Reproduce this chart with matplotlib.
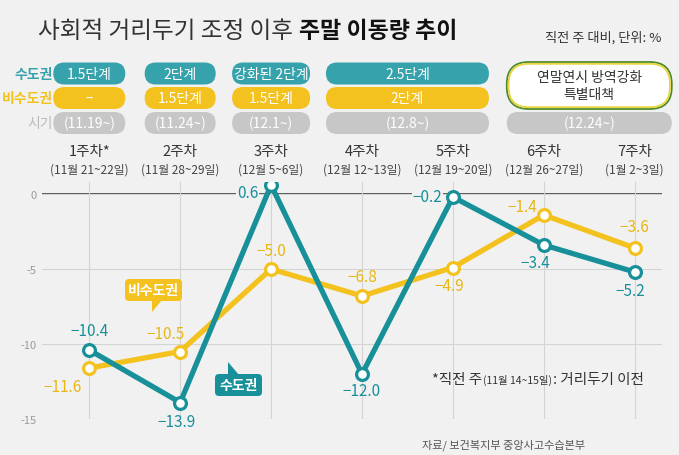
import matplotlib.pyplot as plt
from matplotlib.patches import FancyBboxPatch, Polygon

plt.rcParams['font.family'] = ['Noto Sans CJK KR', 'DejaVu Sans']

# data
weeks = [1, 2, 3, 4, 5, 6, 7]
week_labels = ['1주차*', '2주차', '3주차', '4주차', '5주차', '6주차', '7주차']
date_labels = ['(11월 21~22일)', '(11월 28~29일)', '(12월 5~6일)', '(12월 12~13일)',
               '(12월 19~20일)', '(12월 26~27일)', '(1월 2~3일)']
metro = [-10.4, -13.9, 0.6, -12.0, -0.2, -3.4, -5.2]
nonmetro = [-11.6, -10.5, -5.0, -6.8, -4.9, -1.4, -3.6]

stage_spans = [(1, 1), (2, 2), (3, 3), (4, 5), (6, 7)]
metro_stage = ['1.5단계', '2단계', '강화된 2단계', '2.5단계', None]
nonmetro_stage = ['–', '1.5단계', '1.5단계', '2단계', None]
periods = ['(11.19~)', '(11.24~)', '(12.1~)', '(12.8~)', '(12.24~)']
special = '연말연시 방역강화\n특별대책'

BG = '#f1f1f1'
TEAL = '#17909a'
TEAL_PILL = '#35a2ac'
YELLOW = '#f4c21f'
GRAY_PILL = '#c7c7c7'

W, H = 679, 456
fig = plt.figure(figsize=(W / 100, H / 100), dpi=100, facecolor=BG)
ax = fig.add_axes([42 / W, 36 / H, 620 / W, 237 / H])
ax.set_facecolor('none')
ax.set_xlim(0.48, 7.30)
ax.set_ylim(-15, 0.8)

ax.set_yticks([0, -5, -10, -15])
ax.set_yticklabels(['0', '-5', '-10', '-15'], fontsize=8, color='#999999')
ax.set_xticks(weeks)
ax.set_xticklabels([])
ax.tick_params(length=0, pad=4)
for s in ax.spines.values():
    s.set_visible(False)
ax.grid(True, color='#d4d4d4', lw=0.8)
ax.axhline(0, color='#555555', lw=1.4, zorder=1.5)

ax.plot(weeks, nonmetro, color=YELLOW, lw=3.8, marker='o', ms=8.5, mfc='white',
        mec=YELLOW, mew=2.3, zorder=3, solid_capstyle='round')
ax.plot(weeks, metro, color=TEAL, lw=3.8, marker='o', ms=8.5, mfc='white',
        mec=TEAL, mew=2.3, zorder=4, solid_capstyle='round')

def fmt(v):
    return f'{v:.1f}'.replace('-', '−')

# label offsets in pixels (dx, dy down), alignment
metro_off = [(0, -19, 'center'), (-4, 19, 'center'), (-13, 8, 'right'), (0, 16, 'center'),
             (-11, 0, 'right'), (-8, 18, 'center'), (-4, 19, 'center')]
nonmetro_off = [(-27, 18, 'center'), (-15, -18, 'center'), (0, -19, 'center'), (0, -20, 'center'),
                (-4, 18, 'center'), (-21, -8, 'center'), (0, -22, 'center')]
for vals, offs, col in [(metro, metro_off, TEAL), (nonmetro, nonmetro_off, '#e8b714')]:
    for x, v, (dx, dy, ha) in zip(weeks, vals, offs):
        bb = None
        if ha == 'right':
            bb = dict(boxstyle='square,pad=0.05', fc=BG, ec='none')
        ax.annotate(fmt(v), (x, v), xytext=(dx * 0.72, -dy * 0.72), textcoords='offset points',
                    ha=ha, va='center', color=col, fontsize=11, bbox=bb, zorder=6,
                    annotation_clip=False)

# overlay in pixel coords (y down)
ov = fig.add_axes([0, 0, 1, 1], zorder=5)
ov.set_xlim(0, W)
ov.set_ylim(H, 0)
ov.axis('off')
ov.patch.set_alpha(0)

def px(x):
    return ax.transData.transform((x, 0))[0]

def pill(cx, cy, w, h, fc, text, tc='white', fs=10):
    ov.add_patch(FancyBboxPatch((cx - w / 2, cy - h / 2), w, h,
                                boxstyle=f'round,pad=0,rounding_size={h / 2}',
                                fc=fc, ec='none'))
    if text:
        ov.text(cx, cy, text, ha='center', va='center', color=tc, fontsize=fs)

fig.canvas.draw()
r = fig.canvas.get_renderer()

# title
t1 = ov.text(38, 32, '사회적 거리두기 조정 이후', fontsize=17, color='#333333', va='center',
             fontweight='light')
ov.text(38 + t1.get_window_extent(r).width + 6, 32, '주말 이동량 추이', fontsize=16.5,
        color='#111111', va='center', fontweight='bold')
ov.text(661, 38, '직전 주 대비, 단위: %', fontsize=9.5, color='#333333', va='center', ha='right')

# row labels
ov.text(53, 74.5, '수도권', ha='right', va='center', fontsize=10, color=TEAL_PILL,
        fontweight='bold')
ov.text(53, 99, '비수도권', ha='right', va='center', fontsize=10, color=YELLOW,
        fontweight='bold')
ov.text(53, 124, '시기', ha='right', va='center', fontsize=10, color='#bbbbbb')

pill_w = [72, 71, 78, 163, 165]
for (a, b), ms, ns, per, w in zip(stage_spans, metro_stage, nonmetro_stage, periods, pill_w):
    cx = (px(a) + px(b)) / 2
    if ms is not None:
        pill(cx, 74.5, w, 22, TEAL_PILL, ms)
        pill(cx, 99, w, 22, YELLOW, ns)
    else:
        ov.add_patch(FancyBboxPatch((cx - w / 2, 63), w, 47,
                                    boxstyle='round,pad=0,rounding_size=22',
                                    fc='white', ec='#4e8a30', lw=1.3))
        ov.add_patch(FancyBboxPatch((cx - w / 2 + 1.8, 64.8), w - 3.6, 43.4,
                                    boxstyle='round,pad=0,rounding_size=20',
                                    fc='none', ec='#ead53c', lw=1.3))
        ov.text(cx, 86.5, special, ha='center', va='center', fontsize=10, color='#333333',
                linespacing=1.25)
    pill(cx, 124, w, 22, GRAY_PILL, per)

for x, wl, dl in zip(weeks, week_labels, date_labels):
    ov.text(px(x), 152, wl, ha='center', va='center', fontsize=10.5, color='#333333')
    ov.text(px(x), 170, dl, ha='center', va='center', fontsize=8.5, color='#444444')

# callouts
ov.add_patch(FancyBboxPatch((125, 280), 57, 22, boxstyle='round,pad=0,rounding_size=4',
                            fc=YELLOW, ec='none'))
ov.add_patch(Polygon([(152, 301), (152, 313), (162, 301)], closed=True, fc=YELLOW, ec='none'))
ov.text(153.5, 291, '비수도권', ha='center', va='center', color='white', fontsize=10,
        fontweight='bold')
ov.add_patch(FancyBboxPatch((215, 375), 47, 22, boxstyle='round,pad=0,rounding_size=4',
                            fc=TEAL, ec='none'))
ov.add_patch(Polygon([(228, 376), (228, 363), (239, 376)], closed=True, fc=TEAL, ec='none'))
ov.text(238.5, 386, '수도권', ha='center', va='center', color='white', fontsize=10,
        fontweight='bold')

# footnote
x0 = 432
parts = [('*직전 주', 10.5), ('(11월 14~15일)', 7.5), (': 거리두기 이전', 10.5)]
for txt, fs in parts:
    t = ov.text(x0, 380, txt, ha='left', va='center', fontsize=fs, color='#333333')
    x0 += t.get_window_extent(r).width + 1

ov.text(504, 445, '자료/ 보건복지부 중앙사고수습본부', ha='center', va='center', fontsize=8,
        color='#555555', style='italic')

fig.savefig('out.png', dpi=100, facecolor=BG)
